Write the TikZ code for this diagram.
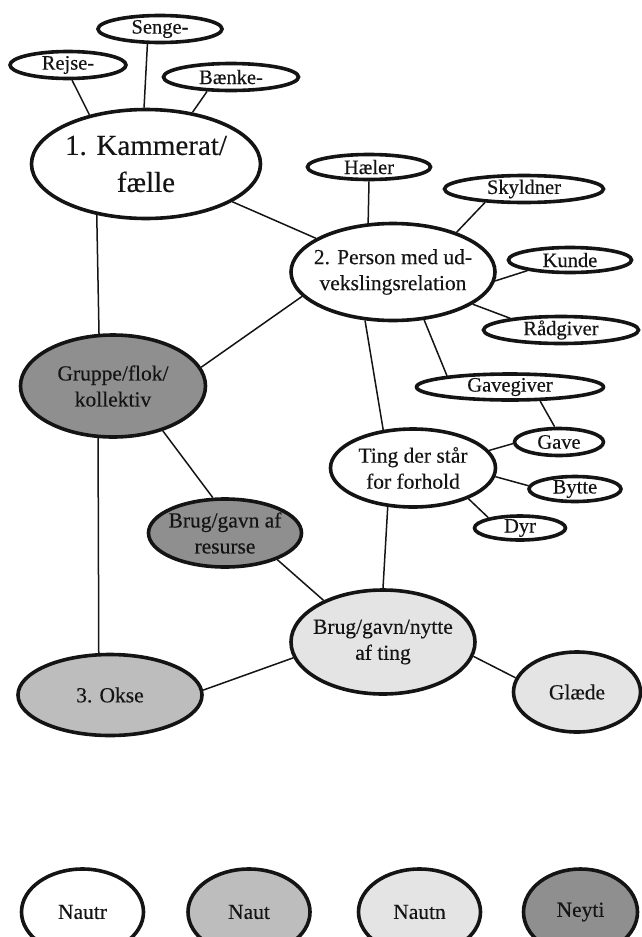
\documentclass[tikz,border=0pt]{standalone}
\usepackage{fontspec}
\setmainfont{Liberation Serif}[FakeBold=0.3]
\usepackage{tikz}
\usetikzlibrary{shapes.geometric}
\definecolor{inkblack}{HTML}{141414}
\definecolor{nautrfill}{HTML}{FFFFFF}
\definecolor{nautfill}{HTML}{BDBDBD}
\definecolor{nautnfill}{HTML}{E4E4E4}
\definecolor{neytifill}{HTML}{8F8F8F}
\tikzset{
  termnode/.style={ellipse, draw=inkblack, line width=3.6pt, inner sep=-14pt, align=center, text=inkblack, font=\fontsize{21.5}{26}\selectfont},
  wordnode/.style={termnode, fill=nautrfill, font=\fontsize{20.5}{24}\selectfont, minimum height=27pt},
  nautrnode/.style={termnode, fill=nautrfill},
  nautnode/.style={termnode, fill=nautfill},
  nautnnode/.style={termnode, fill=nautnfill},
  neytinode/.style={termnode, fill=neytifill},
  legendnode/.style={termnode, minimum width=122pt, minimum height=86pt},
  link/.style={line width=1.5pt, draw=inkblack}
}

\begin{document}
\begin{tikzpicture}[x=1pt, y=-1pt]
  \clip (0,0) rectangle (642,937);
  \node[nautrnode, minimum width=229pt, minimum height=109pt, font=\fontsize{29}{37}\selectfont] (kammerat) at (146,164) {1. Kammerat/\\fælle};
  \node[wordnode, minimum width=116pt] (rejse) at (68,65) {Rejse-};
  \node[wordnode, minimum width=124pt] (senge) at (160,29) {Senge-};
  \node[wordnode, minimum width=135pt] (baenke) at (231,77) {Bænke-};
  \node[nautrnode, minimum width=204pt, minimum height=97pt] (person) at (393,272) {2. Person med ud-\\vekslingsrelation};
  \node[wordnode, minimum width=123pt, minimum height=25pt] (haeler) at (369,167) {Hæler};
  \node[wordnode, minimum width=159pt] (skyldner) at (524,189) {Skyldner};
  \node[wordnode, minimum width=123pt, minimum height=25pt] (kunde) at (570,260) {Kunde};
  \node[wordnode, minimum width=155pt] (raadgiver) at (561,330) {Rådgiver};
  \node[wordnode, minimum width=187pt, minimum height=26pt] (gavegiver) at (510,387) {Gavegiver};
  \node[nautrnode, minimum width=165pt, minimum height=78pt] (ting) at (413,468) {Ting der står\\for forhold};
  \node[wordnode, minimum width=89pt] (gave) at (559,442) {Gave};
  \node[wordnode, minimum width=92pt, minimum height=25pt] (bytte) at (575,489) {Bytte};
  \node[wordnode, minimum width=91pt, minimum height=24pt] (dyr) at (520,528) {Dyr};
  \node[neytinode, minimum width=185pt, minimum height=102pt] (gruppe) at (113,386) {Gruppe/flok/\\kollektiv};
  \node[neytinode, minimum width=153pt, minimum height=68pt] (resurse) at (225,533) {Brug/gavn af\\resurse};
  \node[nautnnode, minimum width=184pt, minimum height=104pt] (nytte) at (383,642) {Brug/gavn/nytte\\af ting};
  \node[nautnode, minimum width=184pt, minimum height=81pt] (okse) at (110,695) {3. Okse};
  \node[nautnnode, minimum width=127pt, minimum height=80pt] (glaede) at (577,692) {Glæde};
  \node[legendnode, fill=nautrfill] (nautr) at (82.5,912) {Nautr};
  \node[legendnode, fill=nautfill] (naut) at (249,912) {Naut};
  \node[legendnode, fill=nautnfill] (nautn) at (419.5,912) {Nautn};
  \node[legendnode, fill=neytifill, minimum width=114pt] (neyti) at (580.5,912) {Neyti};
  \draw[link] (rejse.285) -- (kammerat.139);
  \draw[link] (senge.230) -- (kammerat.92);
  \draw[link] (baenke.211) -- (kammerat.48);
  \draw[link] (kammerat) -- (person);
  \draw[link] (kammerat.226.6) -- (gruppe.105.5);
  \draw[link] (gruppe.254.5) -- (okse.105.3);
  \draw[link] (haeler.south) -- (person.117);
  \draw[link] (skyldner.199) -- (person.32);
  \draw[link] (kunde.194) -- (person.355);
  \draw[link] (raadgiver.167) -- (person.338.5);
  \draw[link] (gruppe.12) -- (person.195.5);
  \draw[link] (person.240) -- (ting.128);
  \draw[link] (person.303) -- (gavegiver.170);
  \draw[link] (gavegiver.335) -- (gave.106.6);
  \draw[link] (ting.13) -- (gave.182);
  \draw[link] (ting.354) -- (bytte.176);
  \draw[link] (ting.331.5) -- (dyr.162);
  \draw[link] (ting.237) -- (nytte.90);
  \draw[link] (gruppe.318.5) -- (resurse.109);
  \draw[link] (resurse.333) -- (nytte.145);
  \draw[link] (okse.3) -- (nytte.190);
  \draw[link] (nytte.351) -- (glaede.167);
\end{tikzpicture}
\end{document}
